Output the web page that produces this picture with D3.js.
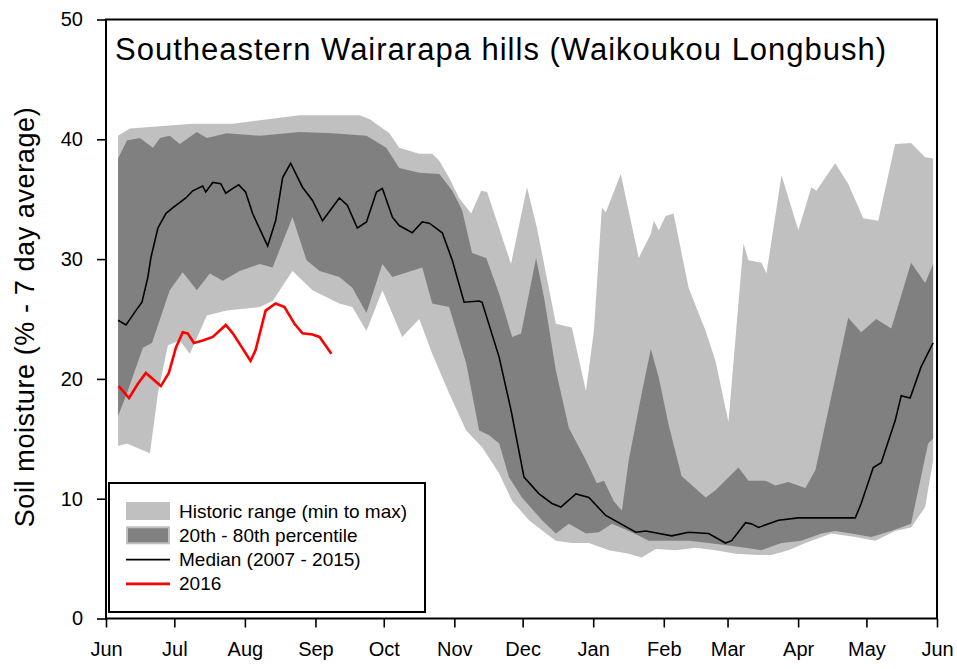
<!DOCTYPE html>
<html>
<head>
<meta charset="utf-8">
<script src="https://cdn.jsdelivr.net/npm/d3@7"></script>
<style>
  body { margin: 0; background: #fff; }
  svg { display: block; font-family: "Liberation Sans", Arial, sans-serif; }
</style>
</head>
<body>
<svg width="957" height="669"></svg>
<script>
// days since 1 June 2016, soil moisture %
var histMax = [[5.3,40.3],[10.5,40.9],[38.1,41.3],[55.7,41.3],[85,42],[111.3,42],[115.7,41.7],[124.5,40.5],
  [128.8,39.3],[137.6,38.8],[143.3,38.8],[146.4,38.2],[150.7,36.8],[155.1,35.1],[160.4,33.8],[164.8,35.7],
  [167.4,35.6],[177.9,29.6],[184.9,36],[189.3,32.6],[197.6,24.6],[204.6,24.3],[210.8,19],[214.3,24],
  [217.8,34.3],[219.5,33.9],[226.1,37.1],[234,30.1],[239.3,32.1],[240.6,33.2],[242.8,32.4],[245.8,33.6],
  [249.3,33.8],[255.9,27.6],[263.4,24],[267.7,21.5],[273.4,16.4],[280,31.3],[282.2,29.9],[287.9,29.7],
  [290.1,28.8],[296.7,37],[304.1,32.4],[309.8,36],[312,35.7],[320.3,38],[326,36.3],[332.6,33.4],
  [339.2,33.2],[346.6,39.6],[353.6,39.7],[359.8,38.5],[363.3,38.4]];

var histMin = [[5.3,14.4],[9.2,14.6],[19.3,13.8],[22.8,18.8],[27.2,22.8],[32.4,23.2],[36.8,22.1],[44.3,25.3],
  [53,25.7],[67.5,26],[73.2,26.5],[81.9,29],[90.7,27.4],[102.5,26.3],[108.2,26],[114.4,24],[121.4,27.4],
  [130.1,23.5],[137.6,25],[143.3,22.1],[150.7,18.8],[158.2,15.7],[165.2,14.3],[172.7,12.1],[178.4,9.8],
  [185.8,8.2],[193.3,7.1],[197.6,6.5],[204.6,6.3],[212.1,6.3],[220.9,5.7],[229.6,5.4],[235.3,5.1],
  [241.5,5.8],[250.2,5.7],[259,5.9],[267.7,5.7],[276.5,5.4],[286.6,5.3],[292.3,5.3],[299.7,5.7],
  [307.2,6.3],[318.6,7.1],[329.1,6.8],[337.9,6.5],[346.6,7.3],[353.6,7.6],[359.8,9.3],[363.3,13.2]];

var pct80 = [[5.3,38.4],[9.2,39.9],[14.9,40.1],[20.6,39.3],[23.7,40.1],[28,40.3],[32.4,39.6],[39.9,40.6],
  [44.3,40.1],[53,40.5],[67.5,40.3],[85,40.6],[99.5,40.5],[114.4,40.3],[123.1,39.3],[128.8,37.6],
  [137.6,37.2],[146.4,37.1],[152.1,35.7],[156.4,34.1],[160.8,30.5],[167,30.1],[172.7,27.1],[178.4,23.5],
  [182.3,23.8],[188.9,30.1],[192.4,26.8],[197.6,20.7],[203.3,15.9],[210.8,13.2],[215.6,11.3],[218.7,11.5],
  [223,9.8],[226.6,9],[229.6,13.2],[235.3,18.8],[239.3,22.5],[242.8,20.1],[247.2,16.1],[252.8,11.9],
  [263.4,10.1],[267.7,10.7],[277.8,12.6],[282.2,11.5],[289.7,11.5],[294,11.1],[299.7,11.4],[307.2,10.9],
  [311.6,12.4],[317.3,17.4],[326,25.1],[331.7,23.9],[338.3,25],[344.9,24.2],[353.6,29.7],[359.8,28],
  [363.3,29.6]];

var pct20 = [[5.3,16.9],[9.2,18.8],[16.2,22.6],[20.2,23],[28,27.4],[33.7,28.9],[39.9,27.4],[45.6,28.8],
  [51.3,28.2],[58.7,29],[67.5,29.6],[73.2,29.3],[81.9,33.5],[88.1,29.9],[93.8,29],[102.5,28.5],
  [108.2,27.6],[114.4,25.5],[121.4,29.6],[125.8,28.5],[138.9,29.3],[143.3,26.3],[150.7,26],[158.2,21.3],
  [163.9,15.7],[168.3,15.3],[172.7,14.6],[177,11.8],[182.7,10.1],[191.5,8.2],[197.6,7.1],[203.3,7.9],
  [210.8,7.1],[216.5,7.2],[222.2,7.9],[230.9,7.2],[238.4,6.5],[255.9,6.5],[264.7,6.3],[280.9,5.9],
  [287.9,5.7],[296.7,6.3],[305.4,6.5],[314.2,7.1],[320.3,7.3],[327.3,7.1],[336.1,6.8],[344.9,7.3],
  [353.6,7.9],[361.1,14.6],[363.3,15]];

var median = [[5.3,24.9],[8.8,24.5],[13.1,25.7],[15.8,26.4],[18.4,28.5],[19.7,30.1],[22.8,32.6],[26.3,33.8],
  [29.4,34.3],[35.1,35.1],[38.1,35.7],[42.5,36.1],[43.8,35.6],[46.9,36.4],[50.4,36.3],[52.6,35.5],
  [55.7,35.9],[58.3,36.2],[61.3,35.6],[64.4,33.8],[71,31.1],[74.5,33.2],[77.6,36.8],[81.1,38],[86.3,36],
  [90.7,34.9],[95.1,33.2],[102.5,35.1],[106,34.5],[110.4,32.6],[114.4,33.1],[118.8,35.6],[121.4,35.9],
  [125.8,33.5],[128.8,32.8],[134.5,32.2],[138.9,33.1],[142,33],[147.7,32.2],[152.1,29.9],[157.3,26.4],
  [163.9,26.5],[165.2,26.4],[172.7,21.8],[177.9,17.4],[183.6,11.8],[190.2,10.4],[195.9,9.6],[199.8,9.3],
  [206.4,10.4],[212.1,10.1],[219.5,8.6],[232.7,7.2],[237.1,7.3],[248.5,6.9],[255.9,7.2],[264.7,7.1],
  [272.1,6.3],[274.8,6.5],[280.9,8],[283.5,7.9],[286.6,7.6],[295.4,8.2],[304.1,8.4],[329.1,8.4],
  [331.7,9.6],[337,12.6],[340.5,13],[346.6,16.5],[349.3,18.6],[353.2,18.4],[358,21],[363.3,23]];

var y2016 = [[5.6,19.4],[10.1,18.4],[14,19.6],[17.5,20.5],[24.1,19.4],[27.6,20.5],[30.7,22.6],[33.7,23.9],
  [35.9,23.8],[38.6,23],[42.5,23.2],[46.9,23.5],[52.6,24.5],[55.7,23.8],[63.5,21.5],[65.7,22.4],
  [70.1,25.7],[74.5,26.3],[78.4,26],[82.8,24.6],[86.3,23.8],[90.7,23.7],[93.8,23.5],[99,22.1]];

var yTicks = [0, 10, 20, 30, 40, 50];
var legendItems = [
  {label: "Historic range (min to max)", type: "range"},
  {label: "20th - 80th percentile", type: "pct"},
  {label: "Median (2007 - 2015)", type: "median"},
  {label: "2016", type: "y2016"}
];

var svg = d3.select("svg");
var start = new Date(2016, 5, 1), end = new Date(2017, 5, 1);
var x = d3.scaleTime().domain([start, end]).range([106, 937]);
var y = d3.scaleLinear().domain([0, 50]).range([618.5, 19.5]);
function dayDate(d) { return new Date(start.getTime() + d * 864e5); }

var line = d3.line()
  .x(function(d) { return x(dayDate(d[0])); })
  .y(function(d) { return y(d[1]); });

function band(upper, lower) {
  return line(upper.concat(lower.slice().reverse())) + "Z";
}

svg.append("path").attr("d", band(histMax, histMin)).attr("fill", "#c0c0c0");
svg.append("path").attr("d", band(pct80, pct20)).attr("fill", "#808080");
svg.append("path").attr("d", line(median)).attr("fill", "none").attr("stroke", "#000").attr("stroke-width", 1.6);
svg.append("path").attr("d", line(y2016)).attr("fill", "none").attr("stroke", "#ff0000").attr("stroke-width", 2.6);

// axes
var xAxis = svg.append("g").attr("transform", "translate(0," + y(0) + ")")
  .call(d3.axisBottom(x).ticks(d3.timeMonth.every(1)).tickFormat(d3.timeFormat("%b")).tickSize(9).tickPadding(14));
var yAxis = svg.append("g").attr("transform", "translate(" + x(start) + ",0)")
  .call(d3.axisLeft(y).tickValues(yTicks).tickSize(9).tickPadding(14));
[xAxis, yAxis].forEach(function(a) {
  a.selectAll(".domain").attr("stroke-width", 2).attr("d", null);
  a.selectAll("line").attr("stroke-width", 1.6);
  a.selectAll("text").attr("font-size", 20).attr("fill", "#000").attr("font-family", "Liberation Sans, Arial, sans-serif");
});
svg.append("rect")
  .attr("x", x(start)).attr("y", y(50))
  .attr("width", x(end) - x(start)).attr("height", y(0) - y(50))
  .attr("fill", "none").attr("stroke", "#000").attr("stroke-width", 2);

// titles
svg.append("text").attr("x", 115).attr("y", 60).attr("font-size", 31).attr("letter-spacing", 1)
  .text("Southeastern Wairarapa hills (Waikoukou Longbush)");
svg.append("text").attr("transform", "translate(34," + 317 + ") rotate(-90)")
  .attr("text-anchor", "middle").attr("font-size", 27).attr("letter-spacing", 0.6)
  .text("Soil moisture (% - 7 day average)");

// legend
var lg = svg.append("g");
lg.append("rect").attr("x", 109).attr("y", 483).attr("width", 316).attr("height", 129)
  .attr("fill", "#fff").attr("stroke", "#000").attr("stroke-width", 2);
var rows = lg.selectAll("g.row").data(legendItems).enter().append("g")
  .attr("transform", function(d, i) { return "translate(126," + (511 + i * 24.3) + ")"; });
rows.each(function(d) {
  var g = d3.select(this);
  if (d.type === "range") {
    g.append("rect").attr("x", 0).attr("y", -9).attr("width", 44).attr("height", 18).attr("fill", "#c0c0c0");
  } else if (d.type === "pct") {
    g.append("rect").attr("x", 1).attr("y", -8).attr("width", 42).attr("height", 16)
      .attr("fill", "#808080").attr("stroke", "#c0c0c0").attr("stroke-width", 2);
  } else if (d.type === "median") {
    g.append("line").attr("x1", 0).attr("x2", 44).attr("stroke", "#000").attr("stroke-width", 1.6);
  } else {
    g.append("line").attr("x1", 0).attr("x2", 44).attr("stroke", "#ff0000").attr("stroke-width", 2.6);
  }
  g.append("text").attr("x", 53).attr("y", 6.5).attr("font-size", 19).text(d.label);
});
</script>
</body>
</html>
